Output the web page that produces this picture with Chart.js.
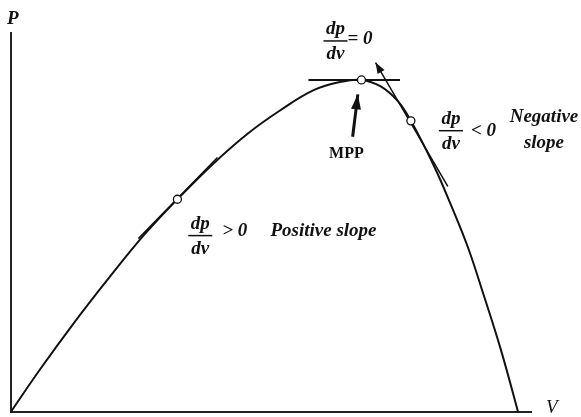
<!DOCTYPE html>
<html>
<head>
<meta charset="utf-8">
<title>P-V curve</title>
<script src="https://cdn.jsdelivr.net/npm/chart.js@4.4.0/dist/chart.umd.min.js"></script>
<style>
  html, body { margin: 0; padding: 0; background: #fff; }
  canvas { display: block; }
</style>
</head>
<body>
<canvas id="pvChart" width="581" height="417"></canvas>
<script>
// P-V curve of a PV module (arbitrary units, 0..100 on both axes)
const voltage = [0, 5.6, 12.3, 19.1, 25.8, 32.0, 38.9, 45.5, 51.8, 58.2, 63.4, 67.4, 71.1, 74.4, 76.9, 81.3, 84.6, 87.9, 90.9, 94.2, 97.5];
const power   = [0, 11.2, 23.8, 35.8, 47.0, 56.1, 65.5, 73.4, 79.6, 84.9, 87.1, 87.6, 85.9, 82.0, 76.8, 65.0, 54.6, 43.3, 30.8, 16.4, 0];

// operating points: positive slope, MPP, negative slope
const pointV = [32.0, 67.4, 76.9];
const pointP = [56.1, 87.6, 76.8];

// tangent segments at the operating points
const tanLeftV  = [24.5, 39.7];
const tanLeftP  = [45.7, 67.1];
const tanTopV   = [57.2, 74.8];
const tanTopP   = [87.6, 87.6];
const tanRightV = [84.0, 70.1];   // last point carries the arrow head
const tanRightP = [59.5, 92.2];

// arrow pointing at the MPP
const mppArrowV = [65.7, 66.7];
const mppArrowP = [72.6, 83.8];

const toXY = (xs, ys) => xs.map((x, i) => ({ x: x, y: ys[i] }));

const ink = '#111';
const serifBI = 'bold italic 19px "Liberation Serif", "DejaVu Serif", serif';

function arrowHead(ctx, x1, y1, x2, y2, len, half) {
  const a = Math.atan2(y2 - y1, x2 - x1);
  ctx.save();
  ctx.translate(x2, y2);
  ctx.rotate(a);
  ctx.beginPath();
  ctx.moveTo(0, 0);
  ctx.lineTo(-len, -half);
  ctx.lineTo(-len, half);
  ctx.closePath();
  ctx.fillStyle = ink;
  ctx.fill();
  ctx.restore();
}

// dp/dv fraction with a relation sign next to it
function fraction(ctx, cx, cy, rel, relDx, relDy) {
  ctx.font = serifBI;
  ctx.fillStyle = ink;
  ctx.textAlign = 'center';
  ctx.textBaseline = 'middle';
  ctx.fillText('dp', cx, cy - 12);
  ctx.fillText('dv', cx, cy + 13);
  ctx.strokeStyle = ink;
  ctx.lineWidth = 1.5;
  ctx.beginPath();
  ctx.moveTo(cx - 12, cy);
  ctx.lineTo(cx + 12, cy);
  ctx.stroke();
  ctx.textAlign = 'left';
  ctx.fillText(rel, cx + relDx, cy + relDy);
}

const annotations = {
  id: 'annotations',
  afterDatasetsDraw(chart) {
    const ctx = chart.ctx;
    const xs = chart.scales.x, ys = chart.scales.y;
    const px = v => xs.getPixelForValue(v);
    const py = p => ys.getPixelForValue(p);
    const area = chart.chartArea;

    // arrow heads
    arrowHead(ctx, px(tanRightV[0]), py(tanRightP[0]), px(tanRightV[1]), py(tanRightP[1]), 11, 4);
    arrowHead(ctx, px(mppArrowV[0]), py(mppArrowP[0]), px(mppArrowV[1]), py(mppArrowP[1]), 15, 5);

    ctx.save();
    // axis names
    ctx.fillStyle = ink;
    ctx.textBaseline = 'alphabetic';
    ctx.textAlign = 'left';
    ctx.font = 'bold italic 19px "Liberation Serif", serif';
    ctx.fillText('P', area.left - 4, area.top - 9);
    ctx.font = 'italic 19px "Liberation Serif", serif';
    ctx.fillText('V', area.right + 15, area.bottom + 1);

    // slope labels
    fraction(ctx, px(62.4), py(97.9), '= 0', 12, -2);
    fraction(ctx, px(84.6), py(74.2), '< 0', 20, 0);
    fraction(ctx, px(36.4), py(46.5), '> 0', 22, -5);

    ctx.font = serifBI;
    ctx.textAlign = 'center';
    ctx.textBaseline = 'middle';
    ctx.fillText('Negative', px(102.5), py(77.8));
    ctx.fillText('slope', px(102.5), py(70.8));
    ctx.textAlign = 'left';
    ctx.fillText('Positive slope', px(49.9), py(47.8));

    ctx.font = 'bold 16px "Liberation Serif", serif';
    ctx.textAlign = 'center';
    ctx.fillText('MPP', px(64.5), py(68.1));
    ctx.restore();
  }
};

const lineStyle = (w) => ({
  showLine: true,
  pointRadius: 0,
  borderColor: ink,
  borderWidth: w,
  fill: false,
  clip: false,
  order: 2
});

new Chart(document.getElementById('pvChart'), {
  type: 'scatter',
  data: {
    datasets: [
      Object.assign({ label: 'circles', data: toXY(pointV, pointP) }, {
        pointRadius: 4,
        pointBackgroundColor: '#fff',
        pointBorderColor: ink,
        pointBorderWidth: 1.3,
        showLine: false,
        clip: false,
        order: 0
      }),
      Object.assign({ label: 'P-V', data: toXY(voltage, power), tension: 0.4 }, lineStyle(2)),
      Object.assign({ label: 'tan left', data: toXY(tanLeftV, tanLeftP) }, lineStyle(1.5)),
      Object.assign({ label: 'tan top', data: toXY(tanTopV, tanTopP) }, lineStyle(2)),
      Object.assign({ label: 'tan right', data: toXY(tanRightV, tanRightP) }, lineStyle(1.5)),
      Object.assign({ label: 'mpp arrow', data: toXY(mppArrowV, mppArrowP) }, lineStyle(3))
    ]
  },
  options: {
    responsive: false,
    animation: false,
    layout: { padding: { left: 11, right: 50, top: 33, bottom: 1 } },
    plugins: { legend: { display: false }, tooltip: { enabled: false } },
    scales: {
      x: {
        type: 'linear', min: 0, max: 100,
        grid: { display: false, drawTicks: false },
        ticks: { display: false },
        border: { display: true, color: '#222', width: 2 }
      },
      y: {
        type: 'linear', min: 0, max: 100,
        grid: { display: false, drawTicks: false },
        ticks: { display: false },
        border: { display: true, color: '#222', width: 2 }
      }
    }
  },
  plugins: [annotations]
});
</script>
</body>
</html>
